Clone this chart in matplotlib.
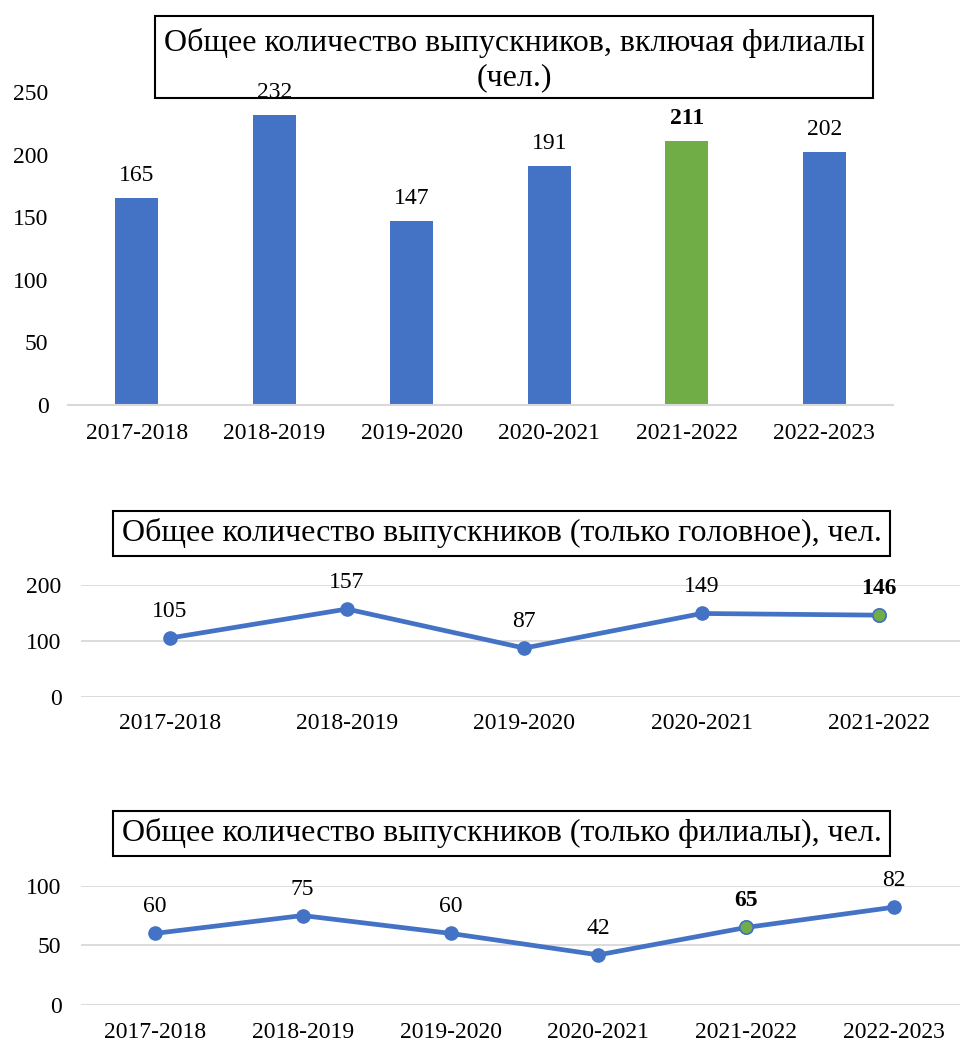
import matplotlib
matplotlib.use("Agg")
import matplotlib.pyplot as plt
from matplotlib.patches import Rectangle

plt.rcParams['font.family'] = ['Liberation Serif', 'DejaVu Serif']

# Data
years6 = ["2017-2018", "2018-2019", "2019-2020", "2020-2021", "2021-2022", "2022-2023"]
total = [165, 232, 147, 191, 211, 202]
years5 = ["2017-2018", "2018-2019", "2019-2020", "2020-2021", "2021-2022"]
head = [105, 157, 87, 149, 146]
branches = [60, 75, 60, 42, 65, 82]
highlight_year = "2021-2022"

title1 = "Общее количество выпускников, включая филиалы\n(чел.)"
title2 = "Общее количество выпускников (только головное), чел."
title3 = "Общее количество выпускников (только филиалы), чел."

BLUE = "#4472C4"
GREEN = "#70AD47"
GRID = "#D9D9D9"
W, H = 960, 1044
FS_TICK = 17
FS_TITLE = 23

fig = plt.figure(figsize=(W / 100, H / 100), dpi=100)


def box_title(text, x0, y0, x1, y1, dy=0, ls=1.1):
    fig.add_artist(Rectangle((x0 / W, 1 - y1 / H), (x1 - x0) / W, (y1 - y0) / H,
                             transform=fig.transFigure, fill=False,
                             edgecolor="black", linewidth=1.5))
    fig.text((x0 + x1) / 2 / W, 1 - ((y0 + y1) / 2 + dy) / H, text, ha="center", va="center",
             fontsize=FS_TITLE, linespacing=ls, color="black")


def style(ax, pad_x, pad_y):
    for s in ax.spines.values():
        s.set_visible(False)
    ax.tick_params(axis="both", length=0, labelsize=FS_TICK, colors="black")
    ax.tick_params(axis="x", pad=pad_x)
    ax.tick_params(axis="y", pad=pad_y)


# ---- Top bar chart
ax1 = fig.add_axes([68 / W, 1 - 405 / H, 825 / W, 313 / H])
colors = [GREEN if y == highlight_year else BLUE for y in years6]
x6 = list(range(len(years6)))
ax1.bar(x6, total, width=0.31, color=colors)
ax1.set_xlim(-0.5, len(years6) - 0.5)
ax1.set_ylim(0, 250)
ax1.set_yticks([0, 50, 100, 150, 200, 250])
ax1.set_xticks(x6)
ax1.set_xticklabels(years6)
style(ax1, 13, 14)
ax1.spines["bottom"].set_visible(True)
ax1.spines["bottom"].set_color(GRID)
ax1.spines["bottom"].set_linewidth(1.5)
for xi, v, y in zip(x6, total, years6):
    ax1.annotate(str(v), (xi, v), xytext=(0, 12), textcoords="offset pixels",
                 ha="center", va="bottom", fontsize=FS_TICK,
                 fontweight="bold" if y == highlight_year else "normal")
box_title(title1, 155, 16, 873, 98, dy=3, ls=1.25)


def line_chart(ax, years, vals, ymax, step):
    xs = list(range(len(years)))
    ax.plot(xs, vals, color=BLUE, linewidth=3.4, marker="o", markersize=9.5,
            markerfacecolor=BLUE, markeredgecolor=BLUE, zorder=3)
    for xi, v, y in zip(xs, vals, years):
        if y == highlight_year:
            ax.plot([xi], [v], marker="o", markersize=9.5, markerfacecolor=GREEN,
                    markeredgecolor=BLUE, markeredgewidth=1.2, linestyle="none", zorder=4)
        ax.annotate(str(v), (xi, v), xytext=(0, 16), textcoords="offset pixels",
                    ha="center", va="bottom", fontsize=FS_TICK,
                    fontweight="bold" if y == highlight_year else "normal")
    ax.set_xlim(-0.5, len(years) - 0.5)
    ax.set_ylim(0, ymax)
    ax.set_yticks(list(range(0, ymax + 1, step)))
    ax.set_xticks(xs)
    ax.set_xticklabels(years)
    ax.grid(axis="y", color=GRID, linewidth=1.3)
    ax.set_axisbelow(True)
    style(ax, 12, 14)


# ---- Middle line chart
ax2 = fig.add_axes([81 / W, 1 - 696.7 / H, 886.6 / W, 111.7 / H])
line_chart(ax2, years5, head, 200, 100)
box_title(title2, 113, 511, 890, 556)

# ---- Bottom line chart
ax3 = fig.add_axes([81 / W, 1 - 1005 / H, 887 / W, 119.3 / H])
line_chart(ax3, years6, branches, 100, 50)
box_title(title3, 113, 811, 890, 856)

fig.savefig("out.png", dpi=100)
